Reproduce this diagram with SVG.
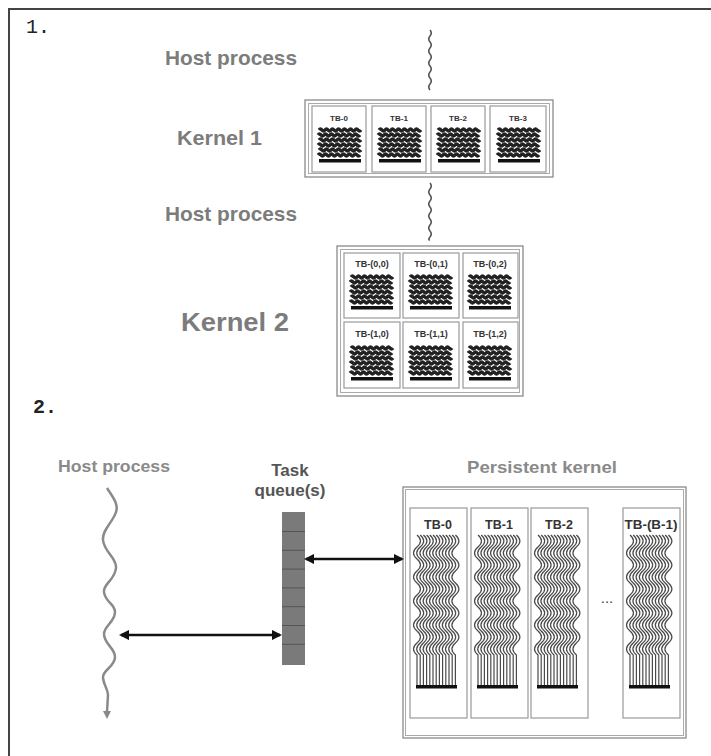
<svg xmlns="http://www.w3.org/2000/svg" xmlns:xlink="http://www.w3.org/1999/xlink" width="711" height="756" viewBox="0 0 711 756">
<style>
.lbl{font-family:"Liberation Sans",Arial,sans-serif;font-weight:bold;fill:#7c7c7c;font-size:21px}
.lbl2{font-family:"Liberation Sans",Arial,sans-serif;fill:#808080;font-size:17px}
.num{font-family:"Liberation Mono","Courier New",monospace;fill:#222;font-size:20px}
.tbs{font-family:"Liberation Sans",Arial,sans-serif;font-weight:bold;fill:#333;text-anchor:middle}
.box{fill:#fff;stroke:#8a8a8a;stroke-width:1.3}
.inner{fill:none;stroke:#aaa;stroke-width:1}
.cell{fill:#fff;stroke:#999;stroke-width:1.2}
.row{fill:none;stroke:#222;stroke-width:3.2}
.thr{fill:none;stroke:#4a4a4a;stroke-width:1.2}
.squig{fill:none;stroke:#555;stroke-width:1.6}
.conn{stroke:#111;stroke-width:2.6;fill:none}
</style>
<defs>
<marker id="ah" viewBox="0 0 10 10" refX="8" refY="5" markerWidth="4" markerHeight="4" orient="auto-start-reverse">
<path d="M0,0 L10,5 L0,10 z" fill="#111"/>
</marker>
<path id="rw" class="row" d="M0,0 q1.5,-2.2 3,0 t3,0 t3,0 t3,0 t3,0 t3,0 t3,0 t3,0 t3,0 t3,0 t3,0 t3,0 t3,0 t3,0"/>
<g id="blk">
<use href="#rw" x="1" y="3"/>
<use href="#rw" x="0" y="8"/>
<use href="#rw" x="1" y="13"/>
<use href="#rw" x="0" y="18"/>
<use href="#rw" x="1" y="23"/>
<use href="#rw" x="0" y="28"/>
<rect x="1" y="32" width="42" height="3.5" fill="#111"/>
</g>
<path id="th" class="thr" d="M0,0 q7,6 0,12 t0,12 t0,12 t0,12 t0,12 t0,12 t0,12 t0,12 t0,12 t0,12 l0,30"/>
<g id="bund">
<use href="#th" x="2"/>
<use href="#th" x="5.2"/>
<use href="#th" x="8.4"/>
<use href="#th" x="11.6"/>
<use href="#th" x="14.8"/>
<use href="#th" x="18"/>
<use href="#th" x="21.2"/>
<use href="#th" x="24.4"/>
<use href="#th" x="27.6"/>
<use href="#th" x="30.8"/>
<use href="#th" x="34"/>
<use href="#th" x="37.2"/>
<use href="#th" x="40.4"/>
<rect x="1" y="150" width="41" height="3.5" fill="#111"/>
</g>
</defs>
<rect width="711" height="756" fill="#fff"/>
<!-- outer frame (top and left edges) -->
<path d="M9,756 L9,9 L711,9" fill="none" stroke="#444" stroke-width="2"/>

<text class="num" x="26" y="33">1.</text>
<text class="num" x="33" y="413" font-weight="bold">2.</text>

<!-- Part 1 -->
<g id="host1">
<text class="lbl" x="165" y="65" textLength="132" lengthAdjust="spacingAndGlyphs">Host process</text>
<path class="squig" d="M430,30 q2.5,3 0,6 t0,6 t0,6 t0,6 t0,6 t0,6 t0,6 t0,6 t0,6 t0,6"/>
</g>
<g id="kernel1">
<text class="lbl" x="177" y="145" textLength="85" lengthAdjust="spacingAndGlyphs">Kernel 1</text>
<rect class="box" x="305" y="100" width="248" height="77"/>
<rect class="inner" x="308.5" y="103.5" width="241" height="70"/>
<rect class="cell" x="312" y="106" width="54" height="66"/>
<rect class="cell" x="372" y="106" width="54" height="66"/>
<rect class="cell" x="431" y="106" width="54" height="66"/>
<rect class="cell" x="490" y="106" width="56" height="66"/>
<text class="tbs" font-size="8" x="339" y="121">TB-0</text>
<text class="tbs" font-size="8" x="399" y="121">TB-1</text>
<text class="tbs" font-size="8" x="458" y="121">TB-2</text>
<text class="tbs" font-size="8" x="518" y="121">TB-3</text>
<use href="#blk" x="318" y="127"/>
<use href="#blk" x="378" y="127"/>
<use href="#blk" x="437" y="127"/>
<use href="#blk" x="497" y="127"/>
</g>
<g id="host2">
<text class="lbl" x="165" y="221" textLength="132" lengthAdjust="spacingAndGlyphs">Host process</text>
<path class="squig" d="M430,183 q2.5,3 0,6 t0,6 t0,6 t0,6 t0,6 t0,6 t0,6 t0,6 t0,6 t0,3"/>
</g>
<g id="kernel2">
<text class="lbl" x="181" y="331" font-size="25" textLength="108" lengthAdjust="spacingAndGlyphs" style="font-size:25px">Kernel 2</text>
<rect class="box" x="337" y="246" width="186" height="150"/>
<rect class="inner" x="340.5" y="249.5" width="179" height="143"/>
<rect class="cell" x="344" y="253" width="56" height="65"/>
<rect class="cell" x="403" y="253" width="56" height="65"/>
<rect class="cell" x="463" y="253" width="55" height="65"/>
<rect class="cell" x="344" y="322" width="56" height="66"/>
<rect class="cell" x="403" y="322" width="56" height="66"/>
<rect class="cell" x="463" y="322" width="55" height="66"/>
<text class="tbs" font-size="9" x="372" y="267">TB-(0,0)</text>
<text class="tbs" font-size="9" x="431" y="267">TB-(0,1)</text>
<text class="tbs" font-size="9" x="490" y="267">TB-(0,2)</text>
<text class="tbs" font-size="9" x="372" y="337">TB-(1,0)</text>
<text class="tbs" font-size="9" x="431" y="337">TB-(1,1)</text>
<text class="tbs" font-size="9" x="490" y="337">TB-(1,2)</text>
<use href="#blk" x="350" y="274"/>
<use href="#blk" x="409" y="274"/>
<use href="#blk" x="468" y="274"/>
<use href="#blk" x="350" y="345"/>
<use href="#blk" x="409" y="345"/>
<use href="#blk" x="468" y="345"/>
</g>

<!-- Part 2 -->
<g id="host3">
<text class="lbl2" x="58" y="472" textLength="112" lengthAdjust="spacingAndGlyphs" style="font-weight:bold;fill:#8a8a8a">Host process</text>
<path d="M107,488 C112,496 119,504 116,512 C113,522 102,530 103,540 C104,552 117,558 116,568 C115,580 103,584 104,592 C105,602 115,604 115,612 C115,622 104,626 104,634 C104,644 115,648 115,657 C115,667 102,670 103,678 C104,686 108,689 108,695 L107,712" fill="none" stroke="#8a8a8a" stroke-width="2.5"/>
<path d="M103,711 L111,711 L107,719 z" fill="#8a8a8a"/>
</g>
<g id="queue">
<text class="tbs" font-size="17" x="290" y="476" style="fill:#555">Task</text>
<text class="tbs" font-size="17" x="290" y="496" style="fill:#555">queue(s)</text>
<rect x="282" y="512" width="23" height="153" fill="#7a7a7a"/>
<path d="M282,531.5 h23 M282,550.3 h23 M282,569.1 h23 M282,587.9 h23 M282,606.7 h23 M282,625.5 h23 M282,644.3 h23" stroke="#555" stroke-width="1"/>
</g>
<g id="pkernel">
<text class="lbl2" x="467" y="473" textLength="150" lengthAdjust="spacingAndGlyphs" style="font-weight:bold;fill:#8a8a8a">Persistent kernel</text>
<rect class="box" x="403" y="487" width="283" height="251"/>
<rect class="inner" x="405.5" y="489.5" width="278" height="246"/>
<rect class="cell" x="410" y="508" width="57" height="210"/>
<rect class="cell" x="471" y="508" width="57" height="210"/>
<rect class="cell" x="531" y="508" width="57" height="210"/>
<rect class="cell" x="623" y="508" width="57" height="210"/>
<text class="tbs" font-size="12.5" x="438" y="529">TB-0</text>
<text class="tbs" font-size="12.5" x="499" y="529">TB-1</text>
<text class="tbs" font-size="12.5" x="559" y="529">TB-2</text>
<text class="tbs" font-size="12.5" x="651" y="529" textLength="53" lengthAdjust="spacingAndGlyphs">TB-(B-1)</text>
<use href="#bund" x="415" y="535"/>
<use href="#bund" x="476" y="535"/>
<use href="#bund" x="536" y="535"/>
<use href="#bund" x="628" y="535"/>
<text x="607" y="603" font-family="Liberation Sans,Arial,sans-serif" font-size="15" fill="#444" text-anchor="middle">...</text>
</g>
<g id="connectors">
<line class="conn" x1="121" y1="635" x2="280" y2="635" marker-start="url(#ah)" marker-end="url(#ah)"/>
<line class="conn" x1="306" y1="559" x2="402" y2="559" marker-start="url(#ah)" marker-end="url(#ah)"/>
</g>
</svg>
